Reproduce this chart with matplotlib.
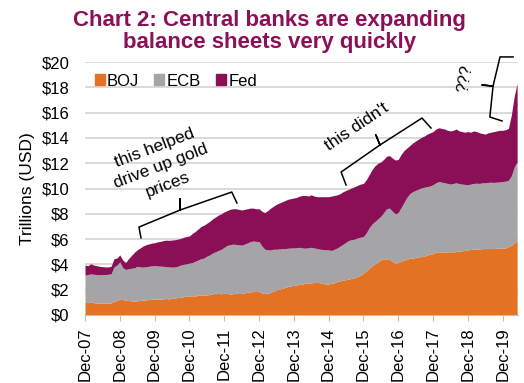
import numpy as np
import matplotlib
matplotlib.use("Agg")
from matplotlib import pyplot as plt
from matplotlib.patches import Patch

plt.rcParams['font.family'] = ['Liberation Sans', 'DejaVu Sans']

boj_top = [
    1.00, 0.98, 1.02, 0.97, 0.95, 0.94, 0.92, 0.93, 0.94, 0.96, 1.08, 1.15,
    1.25, 1.22, 1.18, 1.14, 1.12, 1.10, 1.12, 1.15, 1.18, 1.20, 1.22, 1.26,
    1.27, 1.25, 1.24, 1.28, 1.30, 1.27, 1.32, 1.35, 1.38, 1.40, 1.45, 1.48,
    1.50, 1.52, 1.50, 1.58, 1.60, 1.55, 1.58, 1.62, 1.68, 1.72, 1.70, 1.68,
    1.72, 1.70, 1.66, 1.68, 1.72, 1.70, 1.70, 1.75, 1.80, 1.83, 1.85, 1.86,
    1.85, 1.75, 1.70, 1.72, 1.80, 1.88, 1.98, 2.05, 2.10, 2.18, 2.25, 2.30,
    2.35, 2.38, 2.42, 2.45, 2.50, 2.52, 2.55, 2.56, 2.58, 2.55, 2.50, 2.45,
    2.45, 2.50, 2.55, 2.65, 2.70, 2.75, 2.80, 2.85, 2.90, 2.95, 3.05, 3.15,
    3.30, 3.50, 3.70, 3.90, 4.05, 4.20, 4.35, 4.45, 4.40, 4.40, 4.25, 4.10,
    4.15, 4.25, 4.35, 4.40, 4.48, 4.50, 4.55, 4.60, 4.62, 4.65, 4.75, 4.80,
    4.85, 4.95, 5.00, 4.98, 4.95, 5.00, 5.00, 4.98, 5.02, 5.05, 5.08, 5.10,
    5.15, 5.18, 5.20, 5.20, 5.22, 5.25, 5.25, 5.27, 5.25, 5.26, 5.27, 5.28,
    5.27, 5.30, 5.40, 5.50, 5.70, 5.85,
]
ecb_top = [
    3.15, 3.20, 3.25, 3.22, 3.20, 3.18, 3.20, 3.20, 3.22, 3.25, 3.80, 3.95,
    4.20, 3.75, 3.60, 3.65, 3.70, 3.72, 3.85, 3.80, 3.78, 3.82, 3.85, 3.88,
    3.90, 3.88, 3.86, 3.85, 3.82, 3.80, 3.78, 3.80, 3.85, 3.95, 4.00, 4.05,
    4.10, 4.15, 4.25, 4.35, 4.45, 4.50, 4.65, 4.75, 4.90, 5.00, 5.10, 5.20,
    5.35, 5.50, 5.55, 5.60, 5.58, 5.55, 5.52, 5.60, 5.70, 5.80, 5.85, 5.82,
    5.80, 5.45, 5.20, 5.15, 5.15, 5.20, 5.20, 5.22, 5.25, 5.25, 5.28, 5.30,
    5.30, 5.32, 5.35, 5.30, 5.28, 5.32, 5.35, 5.30, 5.25, 5.20, 5.18, 5.15,
    5.15, 5.10, 5.20, 5.30, 5.45, 5.60, 5.75, 5.90, 5.95, 6.00, 6.10, 6.15,
    6.20, 6.50, 6.90, 7.20, 7.40, 7.60, 7.80, 8.10, 8.40, 8.45, 8.20, 8.00,
    8.10, 8.50, 8.90, 9.30, 9.60, 9.75, 9.85, 9.95, 10.05, 10.10, 10.15, 10.20,
    10.30, 10.45, 10.55, 10.50, 10.45, 10.40, 10.35, 10.40, 10.45, 10.38, 10.35, 10.32,
    10.30, 10.35, 10.40, 10.42, 10.40, 10.45, 10.45, 10.48, 10.50, 10.48, 10.50, 10.52,
    10.55, 10.58, 10.65, 11.00, 11.70, 12.10,
]
fed_top = [
    3.95, 3.90, 4.05, 3.95, 3.90, 3.85, 3.82, 3.80, 3.80, 3.85, 4.45, 4.50,
    4.75, 4.35, 4.15, 4.45, 4.70, 4.95, 5.15, 5.30, 5.45, 5.55, 5.62, 5.68,
    5.72, 5.78, 5.82, 5.88, 5.92, 5.90, 5.93, 5.95, 6.00, 6.05, 6.15, 6.20,
    6.25, 6.45, 6.60, 6.80, 7.00, 7.10, 7.25, 7.40, 7.60, 7.75, 7.90, 8.00,
    8.15, 8.25, 8.35, 8.40, 8.40, 8.35, 8.30, 8.35, 8.40, 8.45, 8.45, 8.40,
    8.40, 8.20, 8.10, 8.25, 8.45, 8.60, 8.75, 8.85, 8.95, 9.05, 9.15, 9.20,
    9.25, 9.30, 9.40, 9.45, 9.45, 9.40, 9.50, 9.40, 9.35, 9.35, 9.35, 9.35,
    9.35, 9.40, 9.45, 9.50, 9.60, 9.75, 9.85, 9.95, 10.05, 10.15, 10.25, 10.35,
    10.40, 10.70, 11.10, 11.50, 11.80, 12.00, 12.10, 12.30, 12.55, 12.60, 12.40, 12.25,
    12.30, 12.70, 13.00, 13.20, 13.40, 13.60, 13.75, 13.90, 14.05, 14.15, 14.30, 14.40,
    14.50, 14.70, 14.80, 14.75, 14.70, 14.60, 14.55, 14.60, 14.70, 14.55, 14.50, 14.45,
    14.50, 14.45, 14.55, 14.50, 14.40, 14.35, 14.30, 14.40, 14.45, 14.50, 14.55, 14.60,
    14.60, 14.65, 14.75, 15.80, 17.30, 18.30,
]
tick_labels = ["Dec-07", "Dec-08", "Dec-09", "Dec-10", "Dec-11", "Dec-12", "Dec-13",
               "Dec-14", "Dec-15", "Dec-16", "Dec-17", "Dec-18", "Dec-19"]

c_boj = "#E37222"
c_ecb = "#A5A5A8"
c_fed = "#8A0F56"
c_title = "#8A1058"

months = np.arange(len(fed_top))

fig = plt.figure(figsize=(5.24, 3.83), dpi=100)
ax = fig.add_axes([85/524, 1 - 315/383, 433/524, 253/383])

ax.fill_between(months, 0, boj_top, color=c_boj, lw=0, zorder=2)
ax.fill_between(months, boj_top, ecb_top, color=c_ecb, lw=0, zorder=2)
ax.fill_between(months, ecb_top, fed_top, color=c_fed, lw=0, zorder=2)

ax.set_xlim(0, 149.3)
ax.set_ylim(0, 20)
ax.set_yticks(range(0, 21, 2))
ax.set_yticklabels([f"${v}" for v in range(0, 21, 2)], fontsize=12)
ax.set_xticks(range(0, 12 * len(tick_labels), 12))
ax.set_xticklabels(tick_labels, rotation=90, fontsize=12)
ax.tick_params(axis='y', length=0, pad=11)
ax.tick_params(axis='x', length=4, color="#BFBFBF", pad=5)
ax.grid(axis='y', color="#D9D9D9", lw=1.4, zorder=0)
ax.set_axisbelow(True)
for s in ["top", "right", "left"]:
    ax.spines[s].set_visible(False)
ax.spines["bottom"].set_color("#BFBFBF")
ax.set_ylabel("Trillions (USD)", fontsize=12.5, labelpad=5)

fig.text(0.515, 0.975, "Chart 2: Central banks are expanding\nbalance sheets very quickly",
         ha="center", va="top", fontsize=16, fontweight="bold", color=c_title,
         linespacing=1.1)

handles = [Patch(color=c_boj, label="BOJ"), Patch(color=c_ecb, label="ECB"),
           Patch(color=c_fed, label="Fed")]
ax.legend(handles=handles, loc="upper left", bbox_to_anchor=(-0.005, 1.0), ncol=3,
          frameon=False, fontsize=12, handlelength=0.6, handleheight=0.6,
          handletextpad=0.15, columnspacing=0.9, borderaxespad=0.3)

# brackets
br1 = [(19.3, 6.1), (18.6, 6.95), (32.8, 8.3), (32.8, 9.2), (32.8, 8.3),
       (50.6, 9.72), (52.4, 8.85)]
br2 = [(90.0, 10.28), (88.3, 11.30), (101.7, 13.44), (100.3, 14.23), (101.7, 13.44),
       (116.2, 15.57), (119.3, 14.78)]
br3 = [(147.6, 20.4), (143.1, 20.4), (140.7, 18.1), (136.9, 18.18), (140.7, 18.1),
       (139.6, 15.65), (143.8, 15.34)]
for br in [br1, br2, br3]:
    xs, ys = zip(*br)
    ax.plot(xs, ys, color="black", lw=1.1, clip_on=False, zorder=5)

ax.text(26.3, 11.75, "this helped\ndrive up gold\nprices", rotation=21, ha="center",
        va="center", fontsize=12.5, rotation_mode="anchor", linespacing=1.4)
ax.text(93.8, 14.85, "this didn't", rotation=34, ha="center", va="center",
        fontsize=12.5, rotation_mode="anchor")
ax.text(131.0, 18.66, "???", rotation=80, ha="center", va="center",
        fontsize=12, rotation_mode="anchor")

plt.savefig("out.png", dpi=100)
